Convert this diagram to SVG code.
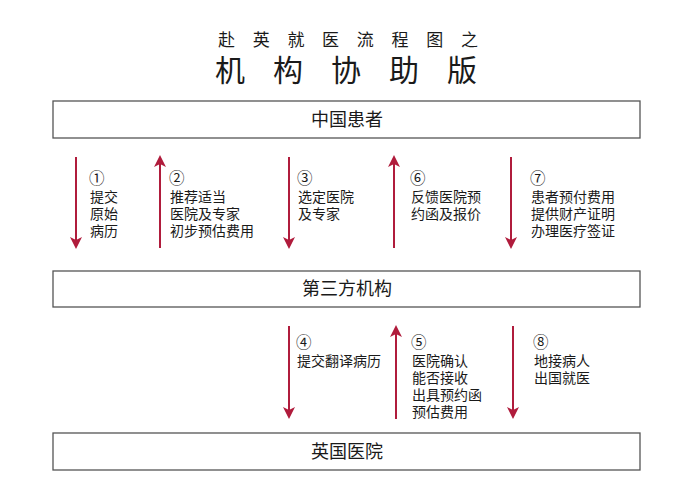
<svg xmlns="http://www.w3.org/2000/svg" width="700" height="495" viewBox="0 0 700 495">
<style>
text{font-family:"Liberation Sans","Noto Sans CJK SC",sans-serif;fill:#1a1a1a}
.box{fill:#fff;stroke:#555;stroke-width:1.3}
.bt{font-size:18px;text-anchor:middle}
.lb{font-size:14px}
.n{font-size:15.5px}
.ar{stroke:#b01c3c;stroke-width:2;fill:none}
</style>
<defs>
<marker id="ah" viewBox="0 0 12 12" refX="10" refY="6" markerWidth="12" markerHeight="12" markerUnits="userSpaceOnUse" orient="auto">
<path d="M0,0 L12,6 L0,12 L3,6 Z" fill="#b01c3c"/>
</marker>
</defs>
<rect width="700" height="495" fill="#fff"/>
<g id="title">
<text><tspan x="218" y="46" font-size="17" letter-spacing="17.7">赴英就医流程图之</tspan><tspan x="215" y="81" font-size="30" letter-spacing="28">机构协助版</tspan></text>
</g>
<g id="node-china">
<rect class="box" x="53" y="101" width="587" height="37"/>
<text class="bt" x="347" y="126">中国患者</text>
</g>
<g id="node-agency">
<rect class="box" x="53" y="271" width="587" height="36"/>
<text class="bt" x="347" y="295">第三方机构</text>
</g>
<g id="node-uk">
<rect class="box" x="53" y="433" width="587" height="37"/>
<text class="bt" x="347" y="458">英国医院</text>
</g>
<g id="connectors">
<line class="ar" x1="76" y1="157" x2="76" y2="247" marker-end="url(#ah)"/>
<line class="ar" x1="160" y1="248" x2="160" y2="157" marker-end="url(#ah)"/>
<line class="ar" x1="289" y1="157" x2="289" y2="247" marker-end="url(#ah)"/>
<line class="ar" x1="394" y1="248" x2="394" y2="157" marker-end="url(#ah)"/>
<line class="ar" x1="511" y1="157" x2="511" y2="247" marker-end="url(#ah)"/>
<line class="ar" x1="289" y1="326" x2="289" y2="417" marker-end="url(#ah)"/>
<line class="ar" x1="396" y1="419" x2="396" y2="327" marker-end="url(#ah)"/>
<line class="ar" x1="513" y1="326" x2="513" y2="417" marker-end="url(#ah)"/>
</g>
<g id="labels">
<text class="lb"><tspan class="n" x="89" y="184">①</tspan><tspan x="90" y="202">提交</tspan><tspan x="90" y="219">原始</tspan><tspan x="90" y="236">病历</tspan></text>
<text class="lb"><tspan class="n" x="169" y="184">②</tspan><tspan x="170" y="202">推荐适当</tspan><tspan x="170" y="219">医院及专家</tspan><tspan x="170" y="236">初步预估费用</tspan></text>
<text class="lb"><tspan class="n" x="297" y="184">③</tspan><tspan x="298" y="202">选定医院</tspan><tspan x="298" y="219">及专家</tspan></text>
<text class="lb"><tspan class="n" x="410" y="184">⑥</tspan><tspan x="411" y="202">反馈医院预</tspan><tspan x="411" y="219">约函及报价</tspan></text>
<text class="lb"><tspan class="n" x="530" y="184">⑦</tspan><tspan x="531" y="202">患者预付费用</tspan><tspan x="531" y="219">提供财产证明</tspan><tspan x="531" y="236">办理医疗签证</tspan></text>
<text class="lb"><tspan class="n" x="296" y="348">④</tspan><tspan x="297" y="366">提交翻译病历</tspan></text>
<text class="lb"><tspan class="n" x="411" y="348">⑤</tspan><tspan x="412" y="366">医院确认</tspan><tspan x="412" y="383">能否接收</tspan><tspan x="412" y="400">出具预约函</tspan><tspan x="412" y="417">预估费用</tspan></text>
<text class="lb"><tspan class="n" x="533" y="348">⑧</tspan><tspan x="534" y="366">地接病人</tspan><tspan x="534" y="383">出国就医</tspan></text>
</g>
</svg>
